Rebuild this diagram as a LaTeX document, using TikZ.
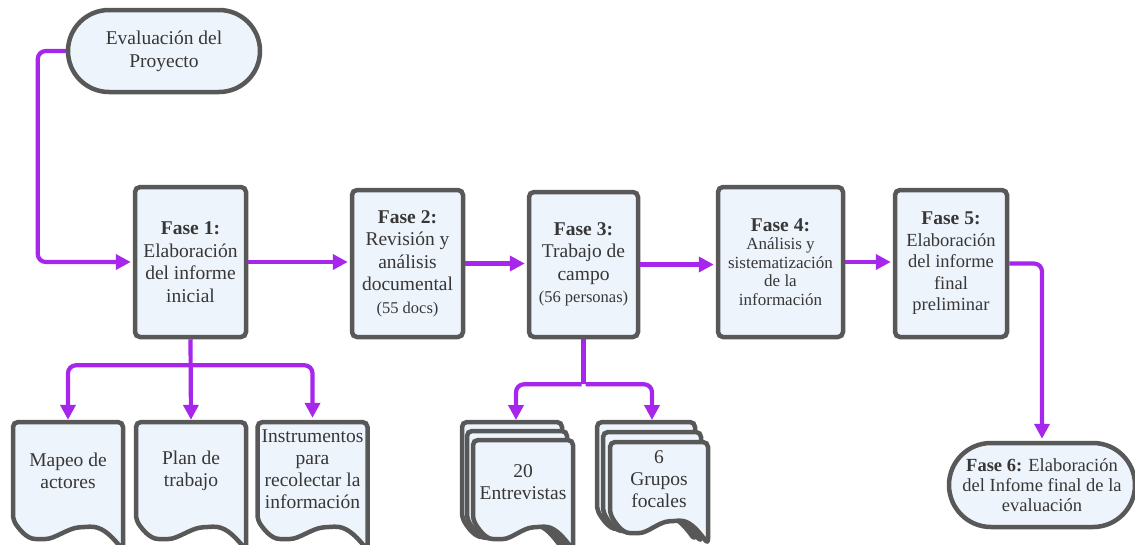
\documentclass[tikz,border=0pt]{standalone}
\usepackage{fontspec}
\setmainfont{Liberation Serif}
\usetikzlibrary{arrows.meta,backgrounds,calc,shapes.misc}
\definecolor{purp}{RGB}{166,38,236}
\definecolor{boxfill}{RGB}{238,244,252}
\definecolor{boxdraw}{RGB}{88,88,88}
\definecolor{txt}{RGB}{55,55,55}
% #1 left x, #2 top y, #3 width, #4 height of left side
\newcommand\mydoc[4]{%
  \path[docsty] (#1,#2+#4) -- (#1,#2) -- (#1+#3,#2) -- (#1+#3,#2+#4+30)
    .. controls (#1+0.88*#3,#2+#4+14) and (#1+0.8*#3,#2+#4+6) .. (#1+0.65*#3,#2+#4+7)
    .. controls (#1+0.5*#3,#2+#4+8) and (#1+0.38*#3,#2+#4+19) .. (#1+0.25*#3,#2+#4+19)
    .. controls (#1+0.12*#3,#2+#4+19) and (#1+0.05*#3,#2+#4+8) .. (#1,#2+#4) -- cycle;}
\begin{document}
\begin{tikzpicture}[x=1pt,y=-1pt,
  phase/.style={draw=boxdraw, line width=4.5pt, fill=boxfill, rounded corners=5pt,
    align=center, text=txt, inner sep=0pt, font=\fontsize{19.5}{22.5}\selectfont},
  term/.style={rounded rectangle, draw=boxdraw, line width=4.5pt, fill=boxfill,
    align=center, text=txt, inner sep=0pt, font=\fontsize{19.5}{23}\selectfont},
  docnode/.style={inner sep=0pt, align=center, text=txt, font=\fontsize{19.5}{22}\selectfont,
    minimum width=110pt, minimum height=98pt},
  docsty/.style={draw=boxdraw, line width=4.5pt, fill=boxfill, rounded corners=5pt},
  conn/.style={draw=purp, line width=4.2pt, rounded corners=8pt, shorten >=2pt,
    -{Triangle[length=15pt,width=15pt]}},
  stem/.style={draw=purp, line width=4.2pt}]
\useasboundingbox (0,0) rectangle (1135,544);

% main nodes
\node[term, minimum width=192pt, minimum height=82pt] (start) at (164,51) {Evaluación del\\Proyecto};
\node[phase, minimum width=111pt, minimum height=150pt] (f1) at (190.5,262)
  {\textbf{Fase 1:}\\Elaboración\\del informe\\inicial};
\node[phase, minimum width=111pt, minimum height=147pt] (f2) at (407.5,263.5)
  {\textbf{Fase 2:}\\Revisión y\\análisis\\documental\\{\fontsize{16.5}{20}\selectfont (55 docs)}};
\node[phase, minimum width=109pt, minimum height=145pt] (f3) at (583.5,264.5)
  {\textbf{Fase 3:}\\Trabajo de\\campo\\{\fontsize{16.5}{20}\selectfont (56 personas)}};
\node[phase, minimum width=125pt, minimum height=150pt, font=\fontsize{17}{18.5}\selectfont] (f4) at (780.5,262)
  {{\fontsize{19.5}{20}\selectfont\textbf{Fase 4:}}\\Análisis y\\sistematización\\de la\\información};
\node[phase, minimum width=112pt, minimum height=147pt, font=\fontsize{18.5}{21.5}\selectfont] (f5) at (951,263.5)
  {{\fontsize{19.5}{21.5}\selectfont\textbf{Fase 5:}}\\Elaboración\\del informe\\final\\preliminar};
\node[term, minimum width=186pt, minimum height=84pt, font=\fontsize{18.5}{20}\selectfont] (f6) at (1042,485)
  {\textbf{Fase 6:} Elaboración\\del Infome final de la\\evaluación};

% document nodes (text)
\node[docnode] (mapeo) at (68,471) {Mapeo de\\actores};
\node[docnode] (plan) at (191,471) {Plan de\\trabajo};
\node[docnode] (instr) at (312.5,469) {Instrumentos\\para\\recolectar la\\información};
\node[docnode, minimum width=100pt, minimum height=80pt] (entrev) at (523,482) {20\\Entrevistas};
\node[docnode, minimum width=98pt, minimum height=72pt] (grupos) at (659,479) {6\\Grupos\\focales};
\coordinate (eTop) at (516,422);
\coordinate (gTop) at (652,422);
\coordinate (j1) at ($(f1.south)+(0,26)$);
\coordinate (j3) at ($(f3.south)+(0,45)$);

\begin{scope}[on background layer]
  \fill[white] (0,0) rectangle (1135,544);
  \mydoc{13}{422}{110}{98}
  \mydoc{136}{422}{110}{98}
  \mydoc{257.5}{422}{110}{98}
  \mydoc{462}{422}{100}{96}
  \mydoc{467}{431}{100}{88}
  \mydoc{473}{440}{100}{80}
  \mydoc{597}{422}{98}{88}
  \mydoc{603}{432}{98}{80}
  \mydoc{610}{442}{98}{72}
\end{scope}

% connectors
\draw[conn] (start.west) -- ++(-28,0) |- (f1.west);
\draw[conn] (f1.east) -- (f1.east -| f2.west);
\draw[conn] (f2.east) -- (f2.east -| f3.west);
\draw[conn] (f3.east) -- (f3.east -| f4.west);
\draw[conn] (f4.east) -- (f4.east -| f5.west);
\draw[conn] (f5.east) -| (f6.north);
\draw[conn] (f1.south) -- (plan.north);
\draw[conn] (j1) -| (mapeo.north);
\draw[conn] (j1) -| (instr.north);
\draw[stem] (f3.south) -- (j3);
\draw[conn] ([xshift=-2pt]j3) -| (eTop);
\draw[conn] ([xshift=2pt]j3) -| (gTop);
\end{tikzpicture}
\end{document}
